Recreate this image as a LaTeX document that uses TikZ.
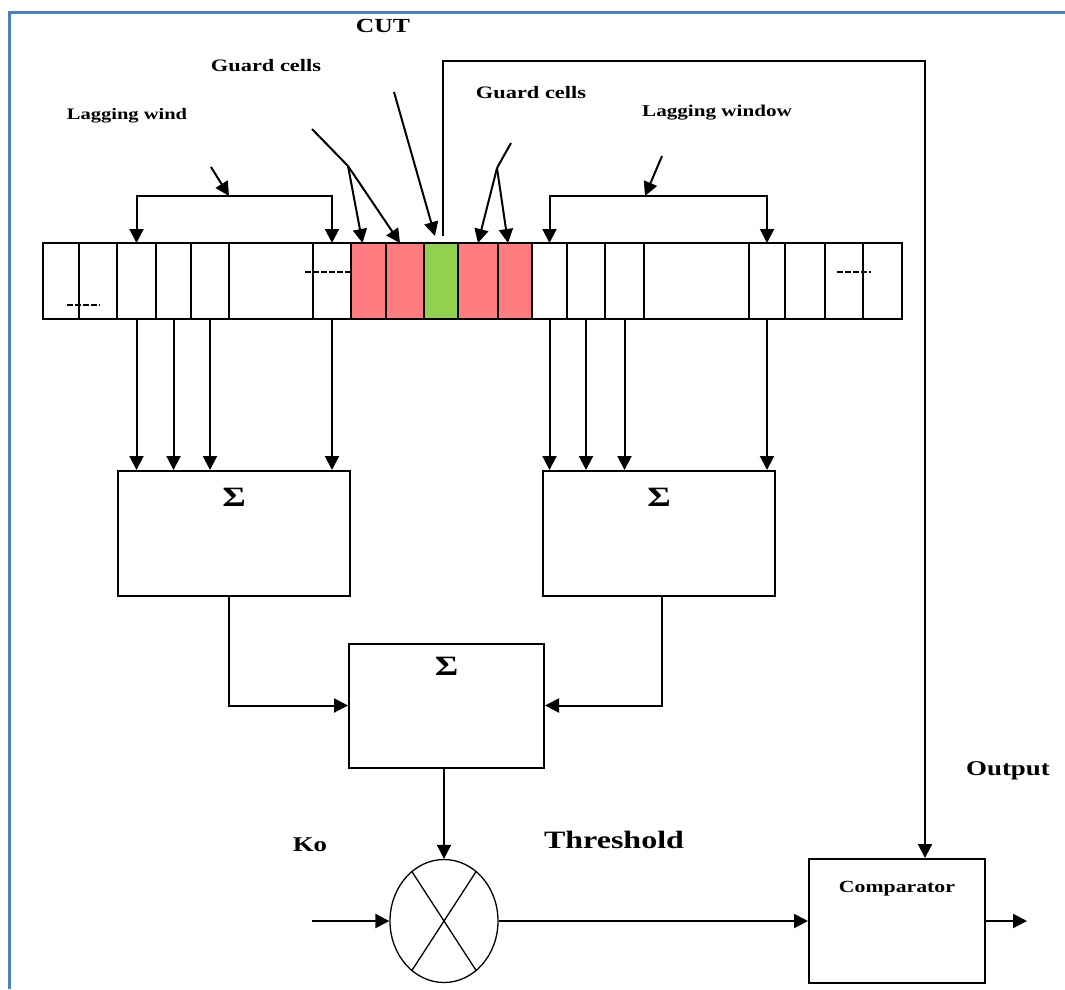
\documentclass[tikz,border=0pt]{standalone}
\usepackage{fontspec}
\newfontfamily\lblfont{Liberation Serif}[FakeStretch=1.28]
\usetikzlibrary{arrows.meta, shapes.geometric, positioning}

\definecolor{guardred}{HTML}{FF7C80}
\definecolor{cutgreen}{HTML}{92D050}
\definecolor{frameblue}{HTML}{4F81BD}

\begin{document}
\begin{tikzpicture}[x=1pt, y=-1pt, line width=2pt, >={Triangle[length=14pt, width=14pt]},
    cell/.style={draw, inner sep=0pt, outer sep=0pt, minimum height=76pt},
    sumbox/.style={draw, inner sep=0pt, minimum width=232pt, minimum height=125pt},
    lbl/.style={font=\lblfont\bfseries\fontsize{#1}{#1}\selectfont, inner sep=0pt}]
        \useasboundingbox (0,0) rectangle (1065,989);
        % Frame
        \draw[frameblue, line width=3pt] (9,989) -- (9,12) -- (1065,12);

        % Reference cells
        \foreach \l/\r/\n/\f in {43/79/1/white, 79/117/2/white, 117/156/3/white, 156/191/4/white,
            191/229/5/white, 229/313/6/white, 313/351/7/white, 351/386/8/guardred, 386/424/9/guardred,
            424/458/10/cutgreen, 458/498/11/guardred, 498/532/12/guardred, 532/567/13/white,
            567/605/14/white, 605/644/15/white, 644/749/16/white, 749/785/17/white, 785/825/18/white,
            825/863/19/white, 863/902/20/white}
            \node[cell, fill=\f, minimum width={(\r-\l)*1pt}] (c\n) at ({(\l+\r)/2},281) {};
        \draw[line width=1.4pt, dash pattern=on 6pt off 2pt] (67,305) -- (100,305);
        \draw[line width=1.4pt, dash pattern=on 6pt off 2pt] (305,272) -- (350,272);
        \draw[line width=1.4pt, dash pattern=on 6pt off 2pt] (837,272) -- (871,272);

        % Labels
        \node[lbl=20] (cut) at (383,26) {CUT};
        \node[lbl=17.5] (gcl) at (266,66) {Guard cells};
        \node[lbl=17.5] (gcr) at (531,93) {Guard cells};
        \node[lbl=16] (lwl) at (127,116) {Lagging wind};
        \node[lbl=16.5] (lwr) at (717,113) {Lagging window};

        % Sum blocks
        \node[sumbox] (sumL) at (234,533.5) {};
        \node[sumbox] (sumR) at (659,533.5) {};
        \node[sumbox, minimum width=195pt, minimum height=124pt] (sumM) at (446.5,705.5) {};
        \node[lbl=28] (sgL) at ([yshift=-27pt]sumL.north) {Σ};
        \node[lbl=28] (sgR) at ([yshift=-27pt]sumR.north) {Σ};
        \node[lbl=28] (sgM) at ([yshift=-24pt]sumM.north) {Σ};

        % Multiplier and comparator
        \node[draw, ellipse, line width=1.3pt, minimum width=108pt, minimum height=123pt, inner sep=0pt] (mult) at (444,921) {};
        \draw[line width=1.3pt] (mult.123) -- (mult.303);
        \draw[line width=1.3pt] (mult.57) -- (mult.237);
        \node[draw, inner sep=0pt, minimum width=176pt, minimum height=124pt] (cmp) at (897,921) {};
        \node[lbl=17] (cmptxt) at ([yshift=-31pt]cmp.north) {Comparator};
        \node[lbl=21] (ko) at (310,845) {Ko};
        \node[lbl=25] (thr) at (614,840) {Threshold};
        \node[lbl=21] (outlbl) at (1008,771) {Output};

        % Lagging windows
        \coordinate (lwtail) at (211,167);
        \coordinate (lwjoin) at (229,196);
        \draw[->] (lwtail) -- (lwjoin);
        \draw[->] (lwjoin) -| (c3.north);
        \draw[->] (lwjoin) -| (c7.north);
        \coordinate (rwtail) at (662,156);
        \coordinate (rwjoin) at (645,196);
        \draw[->] (rwtail) -- (rwjoin);
        \draw[->] (rwjoin) -| (c13.north);
        \draw[->] (rwjoin) -| (c17.north);

        % Guard cells
        \coordinate (gltail) at (312,129);
        \coordinate (glfork) at (348,166);
        \draw (gltail) -- (glfork);
        \draw[->] (glfork) -- ([xshift=-6pt]c8.north);
        \draw[->] (glfork) -- ([xshift=-5pt]c9.north);
        \coordinate (grtail) at (511,143);
        \coordinate (grfork) at (497,168);
        \draw (grtail) -- (grfork);
        \draw[->] (grfork) -- (c11.north);
        \draw[->] (grfork) -- ([xshift=-7pt]c12.north);

        % CUT
        \coordinate (cuttail) at (394,92);
        \coordinate (cuttip) at (435,236);
        \draw[->] (cuttail) -- (cuttip);
        \coordinate (cutout) at (443,236);
        \coordinate (fbturn) at (925,61);
        \draw[->] (cutout) |- (fbturn) -- (fbturn |- cmp.north);

        % Summing
        \foreach \n in {3,4,5,7}
            \draw[->] (c\n.south) -- (c\n.south |- sumL.north);
        \foreach \n in {13,14,15,17}
            \draw[->] (c\n.south) -- (c\n.south |- sumR.north);
        \draw[->] ([xshift=-5pt]sumL.south) |- (sumM.west);
        \draw[->] ([xshift=3pt]sumR.south) |- (sumM.east);
        \draw[->] (mult.north |- sumM.south) -- (mult.north);

        % Threshold and output
        \coordinate (kin) at (312,921);
        \draw[->] (kin) -- (mult.west);
        \draw[->] (mult.east) -- (cmp.west);
        \coordinate (out) at (1027,921);
        \draw[->] (cmp.east) -- (out);
    \end{tikzpicture}
\end{document}
